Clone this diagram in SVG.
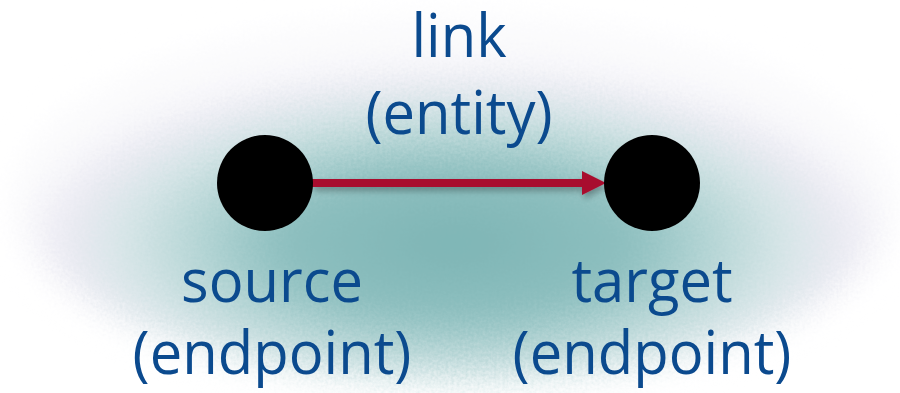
<svg xmlns="http://www.w3.org/2000/svg" width="900" height="393" viewBox="0 0 900 393">
  <defs>
    <style>
      .label { font-family: "Open Sans", "Noto Sans", "Liberation Sans", sans-serif; font-size: 61px; fill: #0B4A8E; text-anchor: middle; }
      .endpoint { fill: #000000; }
      .link { fill: #A80D2E; }
    </style>
    <radialGradient id="haloFill" cx="0.5" cy="0.62" r="0.5">
      <stop offset="0" stop-color="#7DB4B4"/>
      <stop offset="0.4" stop-color="#8DBFBF"/>
      <stop offset="0.6" stop-color="#B8D7D7"/>
      <stop offset="0.76" stop-color="#D8E6E8"/>
      <stop offset="0.88" stop-color="#EAE9F2"/>
      <stop offset="1" stop-color="#FAFAFC"/>
    </radialGradient>
    <filter id="halo" x="-10%" y="-20%" width="120%" height="140%">
      <feTurbulence type="fractalNoise" baseFrequency="0.35" numOctaves="2" seed="3" result="noise"/>
      <feGaussianBlur in="SourceGraphic" stdDeviation="16" result="soft"/>
      <feDisplacementMap in="soft" in2="noise" scale="22" xChannelSelector="R" yChannelSelector="G"/>
    </filter>
    <filter id="shadow" filterUnits="userSpaceOnUse" x="290" y="150" width="340" height="70">
      <feGaussianBlur in="SourceAlpha" stdDeviation="3"/>
      <feOffset dx="2" dy="4" result="off"/>
      <feComponentTransfer><feFuncA type="linear" slope="0.3"/></feComponentTransfer>
      <feMerge><feMergeNode/><feMergeNode in="SourceGraphic"/></feMerge>
    </filter>
  </defs>

  <rect width="900" height="393" fill="#FFFFFF"/>
  <!-- soft backdrop behind the graph -->
  <ellipse cx="455" cy="200" rx="440" ry="182" fill="url(#haloFill)" filter="url(#halo)"/>

  <g id="connectors">
    <!-- shaft and head drawn as one outline so the shadow follows both -->
    <path class="link" filter="url(#shadow)" d="M312,179 L582,179 L582,171 L606,183 L582,195 L582,187 L312,187 Z"/>
  </g>

  <g id="source">
    <circle class="endpoint" cx="265" cy="183" r="48"/>
    <text class="label" transform="translate(272,302) scale(0.95,1)">source</text>
    <text class="label" transform="translate(272,374) scale(0.95,1)">(endpoint)</text>
  </g>

  <g id="target">
    <circle class="endpoint" cx="652" cy="183" r="48"/>
    <text class="label" transform="translate(652,302) scale(0.95,1)">target</text>
    <text class="label" transform="translate(652,374) scale(0.95,1)">(endpoint)</text>
  </g>

  <g id="link">
    <text class="label" transform="translate(459,57) scale(0.95,1)">link</text>
    <text class="label" transform="translate(459,134) scale(0.95,1)">(entity)</text>
  </g>
</svg>
